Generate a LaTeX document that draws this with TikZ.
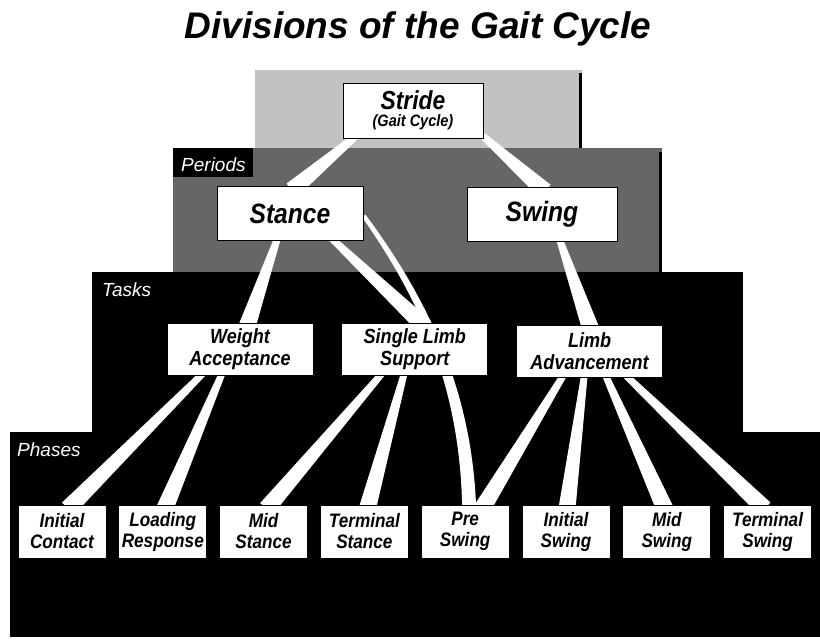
\documentclass[tikz,border=0pt]{standalone}
\usepackage{fontspec}
\setmainfont{Liberation Sans}
\newfontfamily\boxfont[FakeStretch=0.88]{Liberation Sans}
\usetikzlibrary{calc, positioning}

\pgfdeclarelayer{back}
\pgfdeclarelayer{links}
\pgfsetlayers{back,links,main}

% white tapered link: parent anchor, x shift, child anchor, x shift
\newcommand{\wedgelink}[4]{%
  \path ([xshift=#2pt,yshift=4pt]#1) coordinate (wa)
        ([xshift=#4pt,yshift=-4pt]#3) coordinate (wb);
  \fill[white] ($(wa)!3.2pt!90:(wb)$) -- ($(wa)!3.2pt!-90:(wb)$)
    -- ($(wb)!8.5pt!90:(wa)$) -- ($(wb)!8.5pt!-90:(wa)$) -- cycle;}

\begin{document}
\begin{tikzpicture}[
    x=1pt, y=-1pt,
    box/.style={rectangle, draw=black, line width=0.8pt, fill=white, inner sep=1pt, align=center},
    stridebox/.style={box, minimum width=140pt, minimum height=55pt, font=\boxfont\bfseries\itshape\fontsize{26}{17}\selectfont},
    periodbox/.style={box, minimum width=146pt, minimum height=54pt, font=\boxfont\bfseries\itshape\fontsize{28}{30}\selectfont},
    taskbox/.style={box, minimum width=146pt, minimum height=52pt, font=\boxfont\bfseries\itshape\fontsize{20.5}{22}\selectfont},
    phasebox/.style={box, minimum width=88pt, minimum height=53pt, font=\boxfont\bfseries\itshape\fontsize{19.5}{21}\selectfont},
    levellabel/.style={anchor=west, text=white, inner sep=0pt, font=\itshape\fontsize{19}{22}\selectfont}
]
\useasboundingbox (0,0) rectangle (820,640);

% title
\node (title) [anchor=base, font=\bfseries\itshape\fontsize{37}{40}\selectfont] at (418,38) {Divisions of the Gait Cycle};

% boxes
\node (stride) [stridebox] at (413,110.5) {Stride\\{\fontsize{16.5}{17}\selectfont(Gait Cycle)}};
\node (stance) [periodbox] at (290,213.5) {Stance};
\node (swing) [periodbox, minimum width=150pt] at (542,214.5) {Swing};

\node (weightacc) [taskbox] at (240,349) {Weight\\Acceptance};
\node (singlelimb) [taskbox, right=28pt of weightacc] {Single Limb\\Support};
\node (limbadv) [taskbox, right=28pt of singlelimb, yshift=-2pt] {Limb\\Advancement};

\node (initcontact) [phasebox] at (62,531.5) {Initial\\Contact};
\node (loadresp) [phasebox, right=12pt of initcontact] {Loading\\Response};
\node (midstance) [phasebox, right=12pt of loadresp] {Mid\\Stance};
\node (termstance) [phasebox, right=12pt of midstance] {Terminal\\Stance};
\node (preswing) [phasebox, right=12pt of termstance] {Pre\\Swing};
\node (initswing) [phasebox, right=12pt of preswing] {Initial\\Swing};
\node (midswing) [phasebox, right=12pt of initswing] {Mid\\Swing};
\node (termswing) [phasebox, right=12pt of midswing] {Terminal\\Swing};

% levels
\begin{pgfonlayer}{back}
\fill[black!24] (255,70) rectangle (582,152);
\fill[black] (579,73) rectangle (582,152);
\fill[black!60] (173,148) rectangle (662,272);
\fill[black] (659,152) rectangle (662,272);
\fill[black] (173,148) rectangle (253,177);
\fill[black] (92,272) rectangle (743,433);
\fill[black] (10,432) rectangle (820,637);
\node (periods) [levellabel] at (181,165) {Periods};
\node (tasks) [levellabel] at (102,290) {Tasks};
\node (phases) [levellabel] at (17,450) {Phases};
\end{pgfonlayer}

% links
\begin{pgfonlayer}{links}
\wedgelink{stride.south}{-55}{stance.north}{2}
\wedgelink{stride.south}{68}{swing.north}{3}
\wedgelink{stance.south}{-12}{weightacc.north}{7}
\wedgelink{stance.south}{40}{singlelimb.north}{10}
\wedgelink{swing.south}{17}{limbadv.north}{1}
\wedgelink{weightacc.south}{-35}{initcontact.north}{6}
\wedgelink{weightacc.south}{-17}{loadresp.north}{2}
\wedgelink{singlelimb.south}{-31}{midstance.north}{3}
\wedgelink{singlelimb.south}{-10}{termstance.north}{3}
\wedgelink{limbadv.south}{-25}{preswing.north}{17}
\wedgelink{limbadv.south}{-5}{initswing.north}{1}
\wedgelink{limbadv.south}{15}{midswing.north}{-2}
\wedgelink{limbadv.south}{34}{termswing.north}{-3}
% stance to pre swing, behind single limb support
\fill[white] ($(stance.east)+(-1,4)$) .. controls ($(stance.east)+(62,94)$) and ($(preswing.north)+(-5,-110)$) .. ($(preswing.north)+(-3,4)$)
  -- ($(preswing.north)+(11,4)$) .. controls ($(preswing.north)+(7,-110)$) and ($(stance.east)+(68,90)$) .. ($(stance.east)+(2,1)$) -- cycle;
\end{pgfonlayer}

\end{tikzpicture}
\end{document}
